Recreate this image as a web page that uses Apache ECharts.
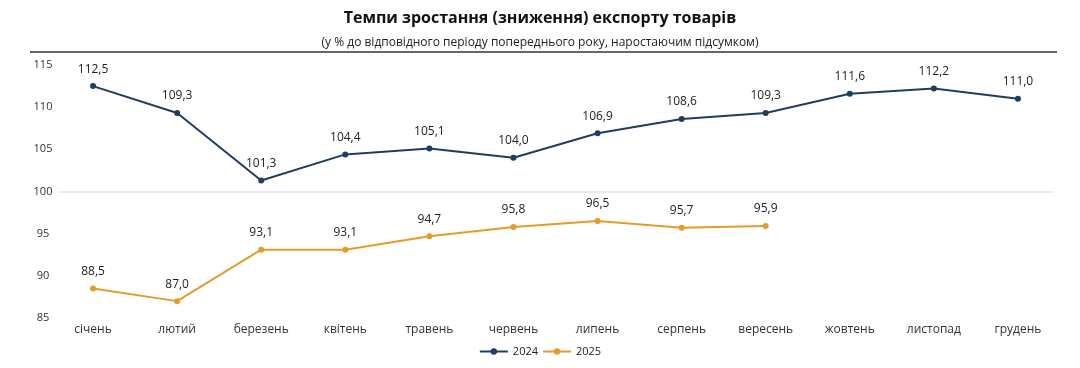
<!DOCTYPE html>
<html><head><meta charset="utf-8">
<script src="https://cdn.jsdelivr.net/npm/echarts@6/dist/echarts.min.js"></script>
<style>html,body{margin:0;padding:0;background:#fff}#c{width:1080px;height:368px}</style>
</head><body><div id="c"></div>
<script>
const categories = ['січень','лютий','березень','квітень','травень','червень','липень','серпень','вересень','жовтень','листопад','грудень'];
const values2024 = [112.5,109.3,101.3,104.4,105.1,104.0,106.9,108.6,109.3,111.6,112.2,111.0];
const values2025 = [88.5,87.0,93.1,93.1,94.7,95.8,96.5,95.7,95.9];
const yTicks = [85,90,95,100,105,110,115];
const baseline = 100;

const chart = echarts.init(document.getElementById('c'));
const fmt = p => String(p.value.toFixed(1)).replace('.', ',');
const font = '"Open Sans", "Noto Sans", sans-serif';
chart.setOption({
  animation:false,
  textStyle:{fontFamily:font},
  title:[
    {text:'Темпи зростання (зниження) експорту товарів', left:'center', top:5,
     textStyle:{fontSize:16,fontWeight:'bold',color:'#111',fontFamily:font}},
    {text:'(у % до відповідного періоду попереднього року, наростаючим підсумком)', left:'center', top:32,
     textStyle:{fontSize:12,fontWeight:'normal',color:'#222',fontFamily:font}}
  ],
  graphic:[{type:'line',shape:{x1:30,y1:52,x2:1057,y2:52},style:{stroke:'#333',lineWidth:1.5}}],
  legend:{bottom:6,left:'center',itemGap:4,itemWidth:28,itemHeight:8,
    textStyle:{fontSize:11,color:'#222'},data:['2024','2025']},
  grid:{left:51,right:20,top:65,bottom:50},
  xAxis:{type:'category',data:categories,boundaryGap:true,
    axisLine:{show:false},axisTick:{show:false},
    axisLabel:{fontSize:12,color:'#333',margin:6}},
  yAxis:{type:'value',min:yTicks[0],max:yTicks[yTicks.length-1],interval:5,
    axisLine:{show:false},axisTick:{show:false},splitLine:{show:false},
    axisLabel:{fontSize:11,color:'#333',margin:8,align:'center'},
  },
  series:[
    {name:'2024',type:'line',data:values2024,color:'#1f3d60',symbol:'circle',symbolSize:6,
     lineStyle:{width:2},z:3,
     label:{show:true,position:'top',distance:8,fontSize:12,color:'#222',formatter:fmt},
     markLine:{silent:true,symbol:'none',label:{show:false},z:1,
       lineStyle:{color:'#e1eaf1',width:2,type:'solid'},
       data:[[{x:59,yAxis:baseline},{x:1053,yAxis:baseline}]]}},
    {name:'2025',type:'line',data:values2025,color:'#e59b2b',symbol:'circle',symbolSize:6,
     lineStyle:{width:2},z:3,
     label:{show:true,position:'top',distance:8,fontSize:12,color:'#222',formatter:fmt}}
  ]
});
</script></body></html>
